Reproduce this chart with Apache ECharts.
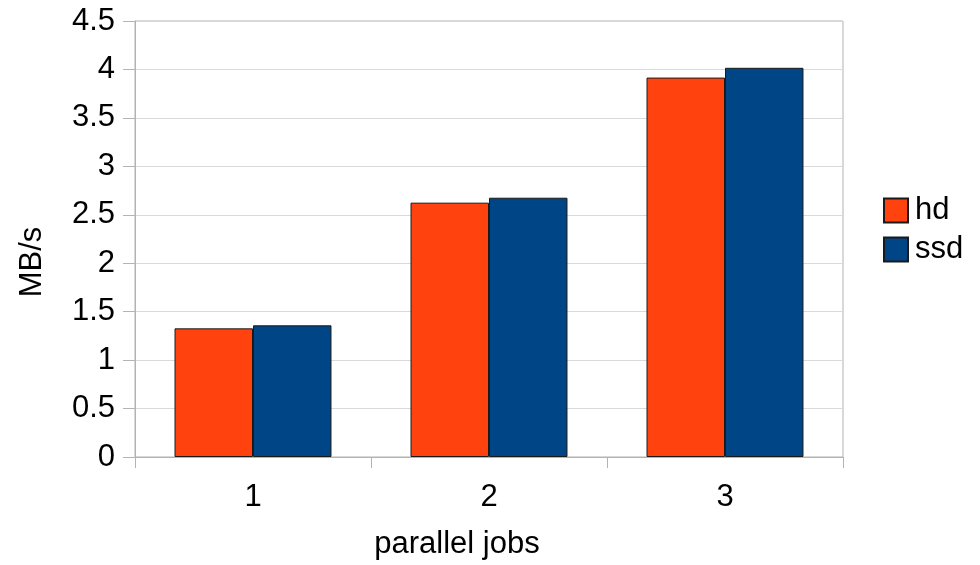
<!DOCTYPE html>
<html>
<head>
<meta charset="utf-8">
<script src="https://cdn.jsdelivr.net/npm/echarts@6/dist/echarts.min.js"></script>
<style>
  html, body { margin: 0; padding: 0; background: #fff; }
  #chart { width: 980px; height: 565px; }
</style>
</head>
<body>
<div id="chart"></div>
<script>
// Throughput per number of parallel jobs, hard disk vs. SSD
const categories = ['1', '2', '3'];
const hdValues = [1.328, 2.625, 3.916];
const ssdValues = [1.359, 2.676, 4.017];
const seriesNames = ['hd', 'ssd'];

const FONT = '"Liberation Sans", Arial, sans-serif';
const TEXT = '#000';
const SIZE = 31;

const chart = echarts.init(document.getElementById('chart'), null, { renderer: 'canvas' });

chart.setOption({
  animation: false,
  backgroundColor: '#fff',
  textStyle: { fontFamily: FONT },
  grid: {
    left: 135, right: 137, top: 21, bottom: 101,
    show: true, borderColor: '#b3b3b3', borderWidth: 1, backgroundColor: 'transparent'
  },
  legend: {
    orient: 'vertical',
    left: 878, top: 190,
    icon: 'rect',
    itemWidth: 24, itemHeight: 24, itemGap: 8,
    textStyle: { fontFamily: FONT, fontSize: SIZE, color: TEXT, padding: [0, 0, 0, 2] },
    data: seriesNames
  },
  xAxis: {
    type: 'category',
    data: categories,
    name: 'parallel jobs',
    nameLocation: 'middle',
    nameGap: 72,
    nameTextStyle: { fontFamily: FONT, fontSize: SIZE, color: TEXT, padding: [0, 64, 0, 0] },
    axisLine: { lineStyle: { color: '#b3b3b3', width: 1 } },
    axisTick: { show: true, length: 11, alignWithLabel: false, lineStyle: { color: '#b3b3b3' } },
    axisLabel: { fontFamily: FONT, fontSize: SIZE, color: TEXT, margin: 25 },
    splitLine: { show: false }
  },
  yAxis: {
    type: 'value',
    min: 0, max: 4.5, interval: 0.5,
    name: 'MB/s',
    nameLocation: 'middle',
    nameGap: 87,
    nameTextStyle: { fontFamily: FONT, fontSize: SIZE, color: TEXT, padding: [0, 46, 0, 0] },
    axisLine: { show: true, lineStyle: { color: '#b3b3b3', width: 1 } },
    axisTick: { show: true, length: 12, lineStyle: { color: '#b3b3b3' } },
    axisLabel: { fontFamily: FONT, fontSize: SIZE, color: TEXT, margin: 20 },
    splitLine: { show: true, lineStyle: { color: '#d9d9d9', width: 1 } }
  },
  series: [
    {
      name: seriesNames[0], type: 'bar', data: hdValues,
      barGap: 0, barCategoryGap: '33.5%',
      itemStyle: { color: '#ff420e', borderColor: '#1a1a1a', borderWidth: 1 }
    },
    {
      name: seriesNames[1], type: 'bar', data: ssdValues,
      barGap: 0, barCategoryGap: '33.5%',
      itemStyle: { color: '#004586', borderColor: '#1a1a1a', borderWidth: 1 }
    }
  ]
});
</script>
</body>
</html>
